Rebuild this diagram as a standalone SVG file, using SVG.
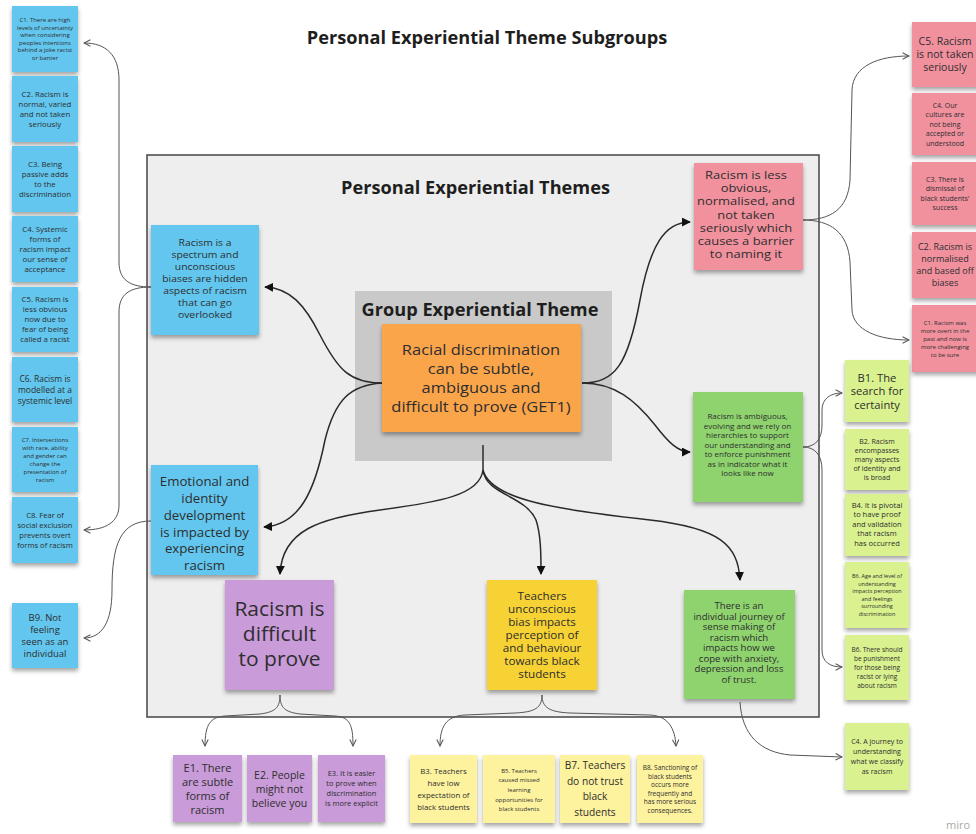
<svg xmlns="http://www.w3.org/2000/svg" width="976" height="834" viewBox="0 0 976 834">
  <style>
    text { font-family: "Open Sans", "Liberation Sans", sans-serif; fill: #2e2e2e; text-anchor: middle; }
    .h { font-weight: bold; fill: #1e1e1e; }
    .blue { fill: #62c6ee; }
    .pink { fill: #f1919e; }
    .green { fill: #8fd36e; }
    .lime { fill: #d9f28f; }
    .purple { fill: #c99bd9; }
    .yellow { fill: #f7d236; }
    .cream { fill: #fdf29e; }
    .orange { fill: #fba54c; }
    .note { filter: url(#shadow); }
    .main { fill: none; stroke: #2a2a2a; stroke-width: 1.5; marker-end: url(#solid); }
    .side { fill: none; stroke: #555; stroke-width: 1; marker-end: url(#open); }
  </style>
  <defs>
    <filter id="shadow" x="-10%" y="-10%" width="120%" height="130%">
      <feDropShadow dx="0" dy="3" stdDeviation="2" flood-color="#000" flood-opacity="0.35"/>
    </filter>
    <marker id="solid" viewBox="0 0 10 10" refX="9" refY="5" markerWidth="9" markerHeight="9" markerUnits="userSpaceOnUse" orient="auto">
      <path d="M0,0 L10,5 L0,10 z" fill="#111"/>
    </marker>
    <marker id="open" viewBox="0 0 10 10" refX="9" refY="5" markerWidth="8" markerHeight="8" markerUnits="userSpaceOnUse" orient="auto">
      <path d="M1,1 L9,5 L1,9" fill="none" stroke="#555" stroke-width="1.3"/>
    </marker>
  </defs>

  <rect width="976" height="834" fill="#ffffff"/>

  <!-- headings and frames -->
  <text class="h" x="487" y="44" font-size="18.2">Personal Experiential Theme Subgroups</text>
  <rect x="147" y="155" width="672" height="562" fill="#eeeeee" stroke="#444" stroke-width="1.5"/>
  <text class="h" x="475.5" y="194" font-size="18.2">Personal Experiential Themes</text>
  <rect x="355" y="291" width="257" height="170" fill="#c9c9c9"/>
  <text class="h" x="480" y="315.5" font-size="18.2">Group Experiential Theme</text>

  <!-- connectors -->
  <g id="connectors">
    <path class="main" d="M382 383 C350 383,338 370,320 335 C305 305,290 288,265 287"/>
    <path class="main" d="M382 383 C350 385,335 400,325 440 C315 490,300 525,264 527"/>
    <path class="main" d="M582 383 C615 383,628 365,640 300 C650 245,665 222,690 222"/>
    <path class="main" d="M582 383 C615 383,635 400,655 425 C668 442,678 452,690 452"/>
    <path fill="none" stroke="#2a2a2a" stroke-width="1.5" d="M483 445 L483 470"/>
    <path class="main" d="M483 470 C480 495,440 502,380 510 C320 518,282 530,280 574"/>
    <path class="main" d="M483 470 C486 495,525 495,536 520 C541 535,541 555,541 574"/>
    <path class="main" d="M483 470 C490 500,560 510,650 520 C720 528,738 545,740 580"/>

    <path class="side" d="M151 287 C130 287,119 280,119 262 L119 80 C119 55,106 43,84 43"/>
    <path class="side" d="M151 287 C130 287,119 294,119 312 L119 505 C119 522,106 530,84 530"/>
    <path class="side" d="M151 521 C120 521,112 545,112 590 C112 622,102 638,84 638"/>
    <path class="side" d="M803 220 C830 220,848 210,850 180 L852 90 C853 66,878 56,909 56"/>
    <path class="side" d="M803 220 C830 220,848 232,850 262 L852 310 C853 330,878 340,909 340"/>
    <path class="side" d="M803 447 C815 447,822 440,822 425 L822 410 C822 399,830 393,842 393"/>
    <path class="side" d="M803 447 C815 447,822 455,822 470 L822 650 C822 662,830 667,842 667"/>
    <path class="side" d="M740 702 C742 735,760 752,790 755 L842 757"/>
    <path class="side" d="M280 695 C280 708,275 712,260 714 L225 716 C210 717,205 725,205 746"/>
    <path class="side" d="M280 695 C280 708,285 712,300 714 L335 716 C350 717,353 725,353 746"/>
    <path class="side" d="M542 695 C542 708,535 712,515 713 L465 715 C445 716,440 728,440 746"/>
    <path class="side" d="M542 695 C542 708,550 712,570 713 L650 715 C668 716,675 728,676 746"/>
  </g>

  <!-- central theme -->
  <g id="get1">
    <rect class="orange note" x="382" y="324" width="199" height="108"/>
    <text font-size="15.1" transform="translate(481 0) scale(1.09 1)"><tspan x="0" y="355.5">Racial discrimination</tspan><tspan x="0" y="374.5">can be subtle,</tspan><tspan x="0" y="393.5">ambiguous and</tspan><tspan x="0" y="412.5">difficult to prove (GET1)</tspan></text>
  </g>

  <!-- personal experiential themes -->
  <g id="pet-spectrum">
    <rect class="blue note" x="151" y="225" width="108" height="110"/>
    <text font-size="9.7" transform="translate(205 0) scale(1.07 1)"><tspan x="0" y="246.5">Racism is a</tspan><tspan x="0" dy="12">spectrum and</tspan><tspan x="0" dy="12">unconscious</tspan><tspan x="0" dy="12">biases are hidden</tspan><tspan x="0" dy="12">aspects of racism</tspan><tspan x="0" dy="12">that can go</tspan><tspan x="0" dy="12">overlooked</tspan></text>
  </g>
  <g id="pet-emotional">
    <rect class="blue note" x="151" y="465" width="107" height="110"/>
    <text font-size="12.5" transform="translate(204.5 0) scale(1.06 1)"><tspan x="0" y="486.5">Emotional and</tspan><tspan x="0" dy="16.7">identity</tspan><tspan x="0" dy="16.7">development</tspan><tspan x="0" dy="16.7">is impacted by</tspan><tspan x="0" dy="16.7">experiencing</tspan><tspan x="0" dy="16.7">racism</tspan></text>
  </g>
  <g id="pet-less-obvious">
    <rect class="pink note" x="694" y="163" width="109" height="107"/>
    <text font-size="10.8" transform="translate(746 0) scale(1.2 1)"><tspan x="0" y="179">Racism is less</tspan><tspan x="0" dy="13.2">obvious,</tspan><tspan x="0" dy="13.2">normalised, and</tspan><tspan x="0" dy="13.2">not taken</tspan><tspan x="0" dy="13.2">seriously which</tspan><tspan x="0" dy="13.2">causes a barrier</tspan><tspan x="0" dy="13.2">to naming it</tspan></text>
  </g>
  <g id="pet-ambiguous">
    <rect class="green note" x="693" y="392" width="110" height="110"/>
    <text font-size="7.5" transform="translate(747.5 0) scale(1.07 1)"><tspan x="0" y="419.5">Racism is ambiguous,</tspan><tspan x="0" dy="9.45">evolving and we rely on</tspan><tspan x="0" dy="9.45">hierarchies to support</tspan><tspan x="0" dy="9.45">our understanding and</tspan><tspan x="0" dy="9.45">to enforce punishment</tspan><tspan x="0" dy="9.45">as in indicator what it</tspan><tspan x="0" dy="9.45">looks like now</tspan></text>
  </g>
  <g id="pet-difficult">
    <rect class="purple note" x="225" y="580" width="109" height="110"/>
    <text font-size="20" transform="translate(279.5 0) scale(1.05 1)"><tspan x="0" y="616">Racism is</tspan><tspan x="0" dy="25">difficult</tspan><tspan x="0" dy="25">to prove</tspan></text>
  </g>
  <g id="pet-teachers">
    <rect class="yellow note" x="487" y="580" width="110" height="110"/>
    <text font-size="10.6" transform="translate(542 0) scale(1.1 1)"><tspan x="0" y="599.8">Teachers</tspan><tspan x="0" dy="13">unconscious</tspan><tspan x="0" dy="13">bias impacts</tspan><tspan x="0" dy="13">perception of</tspan><tspan x="0" dy="13">and behaviour</tspan><tspan x="0" dy="13">towards black</tspan><tspan x="0" dy="13">students</tspan></text>
  </g>
  <g id="pet-journey">
    <rect class="green note" x="684" y="590" width="111" height="109"/>
    <text font-size="8.5" transform="translate(739 0) scale(1.13 1)"><tspan x="0" y="609">There is an</tspan><tspan x="0" dy="10.57">individual journey of</tspan><tspan x="0" dy="10.57">sense making of</tspan><tspan x="0" dy="10.57">racism which</tspan><tspan x="0" dy="10.57">impacts how we</tspan><tspan x="0" dy="10.57">cope with anxiety,</tspan><tspan x="0" dy="10.57">depression and loss</tspan><tspan x="0" dy="10.57">of trust.</tspan></text>
  </g>

  <!-- left subgroup column -->
  <g id="c1-left">
    <rect class="blue note" x="12" y="6" width="66" height="66"/>
    <text font-size="6"><tspan x="45" y="22.4">C1. There are high</tspan><tspan x="45" dy="7.5">levels of uncertainty</tspan><tspan x="45" dy="7.5">when considering</tspan><tspan x="45" dy="7.5">peoples intentions</tspan><tspan x="45" dy="7.5">behind a joke racist</tspan><tspan x="45" dy="7.5">or banter</tspan></text>
  </g>
  <g id="c2-left">
    <rect class="blue note" x="12" y="76" width="66" height="66"/>
    <text font-size="7.8"><tspan x="45" y="96.6">C2. Racism is</tspan><tspan x="45" dy="10">normal, varied</tspan><tspan x="45" dy="10">and not taken</tspan><tspan x="45" dy="10">seriously</tspan></text>
  </g>
  <g id="c3-left">
    <rect class="blue note" x="12" y="146" width="66" height="66"/>
    <text font-size="7.8"><tspan x="45" y="166.6">C3. Being</tspan><tspan x="45" dy="10">passive adds</tspan><tspan x="45" dy="10">to the</tspan><tspan x="45" dy="10">discrimination</tspan></text>
  </g>
  <g id="c4-left">
    <rect class="blue note" x="12" y="216" width="66" height="66"/>
    <text font-size="7.8"><tspan x="45" y="231.6">C4. Systemic</tspan><tspan x="45" dy="10">forms of</tspan><tspan x="45" dy="10">racism impact</tspan><tspan x="45" dy="10">our sense of</tspan><tspan x="45" dy="10">acceptance</tspan></text>
  </g>
  <g id="c5-left">
    <rect class="blue note" x="12" y="287" width="66" height="65"/>
    <text font-size="7.8"><tspan x="45" y="302">C5. Racism is</tspan><tspan x="45" dy="10">less obvious</tspan><tspan x="45" dy="10">now due to</tspan><tspan x="45" dy="10">fear of being</tspan><tspan x="45" dy="10">called a racist</tspan></text>
  </g>
  <g id="c6-left">
    <rect class="blue note" x="12" y="357" width="66" height="65"/>
    <text font-size="8.5"><tspan x="45" y="381.5">C6. Racism is</tspan><tspan x="45" dy="11">modelled at a</tspan><tspan x="45" dy="11">systemic level</tspan></text>
  </g>
  <g id="c7-left">
    <rect class="blue note" x="12" y="427" width="66" height="65"/>
    <text font-size="6"><tspan x="45" y="441.6">C7. Intersections</tspan><tspan x="45" dy="8">with race, ability</tspan><tspan x="45" dy="8">and gender can</tspan><tspan x="45" dy="8">change the</tspan><tspan x="45" dy="8">presentation of</tspan><tspan x="45" dy="8">racism</tspan></text>
  </g>
  <g id="c8-left">
    <rect class="blue note" x="12" y="497" width="66" height="66"/>
    <text font-size="7.6"><tspan x="45" y="517.6">C8. Fear of</tspan><tspan x="45" dy="10">social exclusion</tspan><tspan x="45" dy="10">prevents overt</tspan><tspan x="45" dy="10">forms of racism</tspan></text>
  </g>
  <g id="b9">
    <rect class="blue note" x="12" y="603" width="66" height="65"/>
    <text font-size="9.5"><tspan x="45" y="620.8">B9. Not</tspan><tspan x="45" dy="12">feeling</tspan><tspan x="45" dy="12">seen as an</tspan><tspan x="45" dy="12">individual</tspan></text>
  </g>

  <!-- right pink column -->
  <g id="c5-right">
    <rect class="pink note" x="912" y="22" width="68" height="65"/>
    <text font-size="10.5"><tspan x="945" y="45.2">C5. Racism</tspan><tspan x="945" dy="13">is not taken</tspan><tspan x="945" dy="13">seriously</tspan></text>
  </g>
  <g id="c4-right">
    <rect class="pink note" x="912" y="93" width="68" height="62"/>
    <text font-size="7"><tspan x="945" y="107.5">C4. Our</tspan><tspan x="945" dy="9.5">cultures are</tspan><tspan x="945" dy="9.5">not being</tspan><tspan x="945" dy="9.5">accepted or</tspan><tspan x="945" dy="9.5">understood</tspan></text>
  </g>
  <g id="c3-right">
    <rect class="pink note" x="912" y="162" width="68" height="63"/>
    <text font-size="7"><tspan x="945" y="181.7">C3. There is</tspan><tspan x="945" dy="9.5">dismissal of</tspan><tspan x="945" dy="9.5">black students'</tspan><tspan x="945" dy="9.5">success</tspan></text>
  </g>
  <g id="c2-right">
    <rect class="pink note" x="912" y="232" width="68" height="66"/>
    <text font-size="9"><tspan x="945" y="250.2">C2. Racism is</tspan><tspan x="945" dy="12">normalised</tspan><tspan x="945" dy="12">and based off</tspan><tspan x="945" dy="12">biases</tspan></text>
  </g>
  <g id="c1-right">
    <rect class="pink note" x="912" y="305" width="68" height="67"/>
    <text font-size="6"><tspan x="945" y="324.6">C1. Racism was</tspan><tspan x="945" dy="8">more overt in the</tspan><tspan x="945" dy="8">past and now is</tspan><tspan x="945" dy="8">more challenging</tspan><tspan x="945" dy="8">to be sure</tspan></text>
  </g>

  <!-- right lime column -->
  <g id="b1">
    <rect class="lime note" x="845" y="360" width="64" height="62"/>
    <text font-size="11.2"><tspan x="877" y="381.5">B1. The</tspan><tspan x="877" dy="13.8">search for</tspan><tspan x="877" dy="13.8">certainty</tspan></text>
  </g>
  <g id="b2">
    <rect class="lime note" x="845" y="429" width="64" height="61"/>
    <text font-size="7"><tspan x="877" y="444">B2. Racism</tspan><tspan x="877" dy="9">encompasses</tspan><tspan x="877" dy="9">many aspects</tspan><tspan x="877" dy="9">of identity and</tspan><tspan x="877" dy="9">is broad</tspan></text>
  </g>
  <g id="b4">
    <rect class="lime note" x="845" y="494" width="64" height="62"/>
    <text font-size="7.5"><tspan x="877" y="507.6">B4. It is pivotal</tspan><tspan x="877" dy="9.5">to have proof</tspan><tspan x="877" dy="9.5">and validation</tspan><tspan x="877" dy="9.5">that racism</tspan><tspan x="877" dy="9.5">has occurred</tspan></text>
  </g>
  <g id="b6-age">
    <rect class="lime note" x="845" y="562" width="64" height="66"/>
    <text font-size="5.5"><tspan x="877" y="578.2">B6. Age and level of</tspan><tspan x="877" dy="7.5">understanding</tspan><tspan x="877" dy="7.5">impacts perception</tspan><tspan x="877" dy="7.5">and feelings</tspan><tspan x="877" dy="7.5">surrounding</tspan><tspan x="877" dy="7.5">discrimination</tspan></text>
  </g>
  <g id="b6-punishment">
    <rect class="lime note" x="845" y="635" width="64" height="65"/>
    <text font-size="6.5"><tspan x="877" y="651.8">B6. There should</tspan><tspan x="877" dy="9">be punishment</tspan><tspan x="877" dy="9">for those being</tspan><tspan x="877" dy="9">racist or lying</tspan><tspan x="877" dy="9">about racism</tspan></text>
  </g>
  <g id="c4-journey">
    <rect class="lime note" x="845" y="723" width="64" height="67"/>
    <text font-size="7"><tspan x="877" y="744">C4. A journey to</tspan><tspan x="877" dy="10">understanding</tspan><tspan x="877" dy="10">what we classify</tspan><tspan x="877" dy="10">as racism</tspan></text>
  </g>

  <!-- bottom purple row -->
  <g id="e1">
    <rect class="purple note" x="173" y="755" width="69" height="67"/>
    <text font-size="11"><tspan x="207.5" y="772">E1. There</tspan><tspan x="207.5" dy="14">are subtle</tspan><tspan x="207.5" dy="14">forms of</tspan><tspan x="207.5" dy="14">racism</tspan></text>
  </g>
  <g id="e2">
    <rect class="purple note" x="247" y="755" width="65" height="67"/>
    <text font-size="10.5"><tspan x="279.5" y="778.7">E2. People</tspan><tspan x="279.5" dy="14.2">might not</tspan><tspan x="279.5" dy="14.2">believe you</tspan></text>
  </g>
  <g id="e3">
    <rect class="purple note" x="318" y="755" width="67" height="67"/>
    <text font-size="7.5"><tspan x="351.5" y="776">E3. It is easier</tspan><tspan x="351.5" dy="10">to prove when</tspan><tspan x="351.5" dy="10">discrimination</tspan><tspan x="351.5" dy="10">is more explicit</tspan></text>
  </g>

  <!-- bottom cream row -->
  <g id="b3">
    <rect class="cream note" x="410" y="755" width="67" height="68"/>
    <text font-size="7.8"><tspan x="443.5" y="773.5">B3. Teachers</tspan><tspan x="443.5" dy="12.2">have low</tspan><tspan x="443.5" dy="12.2">expectation of</tspan><tspan x="443.5" dy="12.2">black students</tspan></text>
  </g>
  <g id="b5">
    <rect class="cream note" x="483" y="755" width="72" height="68"/>
    <text font-size="6"><tspan x="519" y="772.8">B5. Teachers</tspan><tspan x="519" dy="9.6">caused missed</tspan><tspan x="519" dy="9.6">learning</tspan><tspan x="519" dy="9.6">opportunities for</tspan><tspan x="519" dy="9.6">black students</tspan></text>
  </g>
  <g id="b7">
    <rect class="cream note" x="560" y="755" width="70" height="68"/>
    <text font-size="10.2"><tspan x="595" y="769.4">B7. Teachers</tspan><tspan x="595" dy="15.5">do not trust</tspan><tspan x="595" dy="15.5">black</tspan><tspan x="595" dy="15.5">students</tspan></text>
  </g>
  <g id="b8">
    <rect class="cream note" x="637" y="755" width="66" height="68"/>
    <text font-size="6.5"><tspan x="670" y="770">B8. Sanctioning of</tspan><tspan x="670" dy="8.5">black students</tspan><tspan x="670" dy="8.5">occurs more</tspan><tspan x="670" dy="8.5">frequently and</tspan><tspan x="670" dy="8.5">has more serious</tspan><tspan x="670" dy="8.5">consequences.</tspan></text>
  </g>

  <text x="958" y="829" font-size="11" style="fill:#aaaaaa">miro</text>
</svg>
